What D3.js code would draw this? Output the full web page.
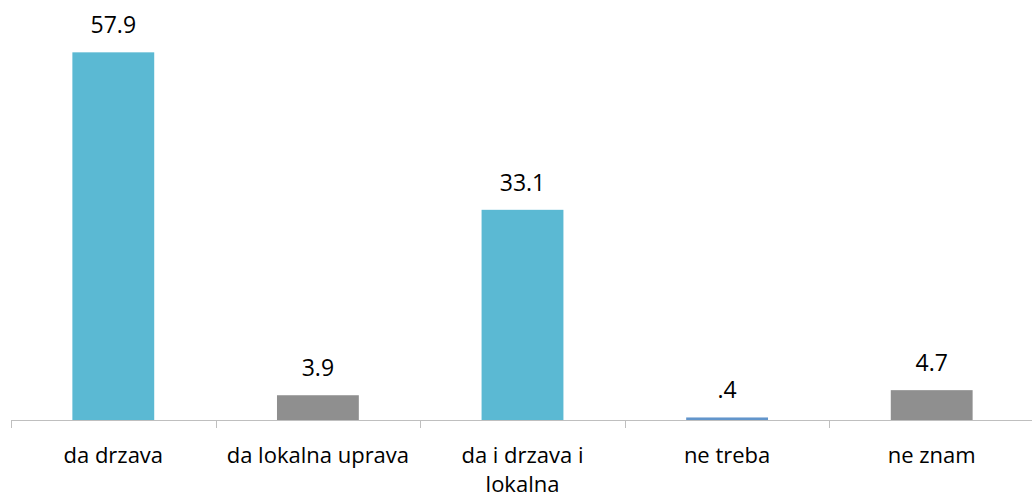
<!DOCTYPE html>
<html>
<head>
<meta charset="utf-8">
<script src="https://cdn.jsdelivr.net/npm/d3@7"></script>
<style>
  body { margin: 0; background: #fff; }
  svg text { font-family: "Open Sans", "Liberation Sans", sans-serif; fill: #000; }
</style>
</head>
<body>
<svg id="chart" width="1032" height="498"></svg>
<script>
const categories = ['da drzava', 'da lokalna uprava', 'da i drzava i lokalna', 'ne treba', 'ne znam'];
const values = [57.9, 3.9, 33.1, 0.4, 4.7];
const labels = ['57.9', '3.9', '33.1', '.4', '4.7'];
const colors = ['#5BB9D3', '#8F8F8F', '#5BB9D3', '#6295CB', '#8F8F8F'];

const chartSize = { width: 1032, height: 498 };
const plot = { left: 11, right: 1034, top: 39, bottom: 420 };

const svg = d3.select('#chart');

const x = d3.scaleBand()
  .domain(categories)
  .range([plot.left, plot.right])
  .padding(0);

const y = d3.scaleLinear()
  .domain([0, 60])
  .range([plot.bottom, plot.top]);

const barWidth = x.bandwidth() * 0.4;

svg.selectAll('rect.bar')
  .data(categories)
  .enter()
  .append('rect')
  .attr('class', 'bar')
  .attr('x', (d) => x(d) + (x.bandwidth() - barWidth) / 2)
  .attr('y', (d, i) => y(values[i]))
  .attr('width', barWidth)
  .attr('height', (d, i) => y(0) - y(values[i]))
  .attr('fill', (d, i) => colors[i]);

// value labels
svg.selectAll('text.value')
  .data(categories)
  .enter()
  .append('text')
  .attr('class', 'value')
  .attr('x', (d) => x(d) + x.bandwidth() / 2)
  .attr('y', (d, i) => y(values[i]) - 19)
  .attr('text-anchor', 'middle')
  .style('font-size', '23px')
  .text((d, i) => labels[i]);

// axis
const axis = svg.append('g');
axis.append('line')
  .attr('x1', plot.left).attr('x2', plot.right)
  .attr('y1', plot.bottom + 0.5).attr('y2', plot.bottom + 0.5)
  .attr('stroke', '#BFBFBF');

const ticks = categories.map((d) => x(d)).concat([plot.right]);
axis.selectAll('line.tick')
  .data(ticks)
  .enter()
  .append('line')
  .attr('class', 'tick')
  .attr('x1', (d) => Math.round(d) + 0.5).attr('x2', (d) => Math.round(d) + 0.5)
  .attr('y1', plot.bottom).attr('y2', plot.bottom + 8)
  .attr('stroke', '#BFBFBF');

// category labels, wrapped to band width
const catText = axis.selectAll('text.cat')
  .data(categories)
  .enter()
  .append('text')
  .attr('class', 'cat')
  .attr('x', (d) => x(d) + x.bandwidth() / 2)
  .attr('y', 463)
  .attr('text-anchor', 'middle')
  .style('font-size', '22px');

catText.each(function (d) {
  const text = d3.select(this);
  const words = d.split(' ');
  let line = [];
  let tspan = text.append('tspan').attr('x', text.attr('x')).attr('dy', 0);
  words.forEach((w) => {
    line.push(w);
    tspan.text(line.join(' '));
    if (tspan.node().getComputedTextLength() > x.bandwidth() - 4 && line.length > 1) {
      line.pop();
      tspan.text(line.join(' '));
      line = [w];
      tspan = text.append('tspan').attr('x', text.attr('x')).attr('dy', 28.5).text(w);
    }
  });
});
</script>
</body>
</html>
